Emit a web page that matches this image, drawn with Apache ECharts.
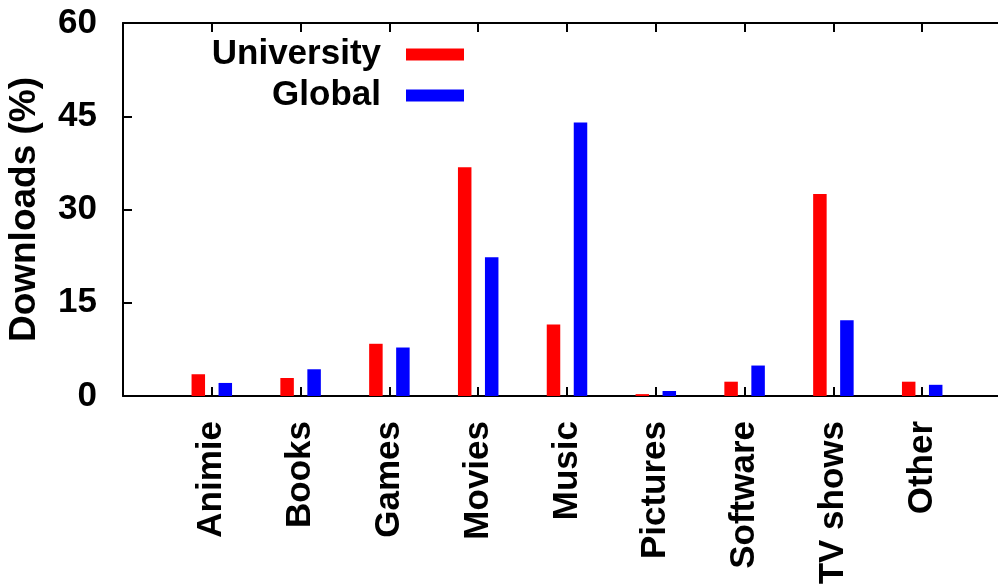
<!DOCTYPE html>
<html>
<head>
<meta charset="utf-8">
<script src="https://cdn.jsdelivr.net/npm/echarts@6/dist/echarts.min.js"></script>
<style>
html,body{margin:0;padding:0;background:#fff;}
#chart{width:998px;height:585px;}
</style>
</head>
<body>
<div id="chart"></div>
<script>
const categories = ['Animie','Books','Games','Movies','Music','Pictures','Software','TV shows','Other'];
const university = [3.5, 2.9, 8.4, 36.8, 11.5, 0.3, 2.3, 32.5, 2.3];
const global = [2.1, 4.3, 7.8, 22.3, 44.0, 0.8, 4.9, 12.2, 1.8];
const yTicks = [0, 15, 30, 45, 60];

const FONT = '"Liberation Sans", Arial, Helvetica, sans-serif';
const axisCats = [''].concat(categories, ['']);
const pad = arr => [null].concat(arr, [null]);

const chart = echarts.init(document.getElementById('chart'), null, {renderer: 'canvas'});
chart.setOption({
  animation: false,
  backgroundColor: '#fff',
  textStyle: {fontFamily: FONT, color: '#000', fontWeight: 'bold'},
  grid: {left: 123, right: -13, top: 23, bottom: 189, containLabel: false, outerBoundsMode: 'none'},
  legend: {
    orient: 'vertical',
    right: 529,
    top: 31,
    align: 'right',
    icon: 'rect',
    itemWidth: 58,
    itemHeight: 12,
    itemGap: 4,
    textStyle: {fontSize: 35, fontWeight: 'bold', fontFamily: FONT, color: '#000', lineHeight: 37, padding: [0, 20, 0, 0]},
    data: ['University', 'Global']
  },
  xAxis: [{
    type: 'category',
    data: axisCats,
    boundaryGap: false,
    position: 'bottom',
    axisLine: {lineStyle: {color: '#000', width: 2}},
    axisTick: {inside: true, length: 9, interval: 0, lineStyle: {color: '#000', width: 2}},
    axisLabel: {interval: 0, rotate: 90, margin: 25, fontSize: 35, fontWeight: 'bold', fontFamily: FONT, color: '#000'},
    splitLine: {show: false}
  }, {
    type: 'category',
    data: axisCats,
    boundaryGap: false,
    position: 'top',
    axisLine: {lineStyle: {color: '#000', width: 2}},
    axisTick: {inside: true, length: 9, interval: 0, lineStyle: {color: '#000', width: 2}},
    axisLabel: {show: false},
    splitLine: {show: false}
  }],
  yAxis: {
    type: 'value',
    min: yTicks[0],
    max: yTicks[yTicks.length - 1],
    interval: 15,
    name: 'Downloads (%)',
    nameLocation: 'middle',
    nameGap: 80,
    nameTextStyle: {fontSize: 37, fontWeight: 'bold', fontFamily: FONT, color: '#000'},
    axisLine: {show: true, lineStyle: {color: '#000', width: 2}},
    axisTick: {show: true, inside: true, length: 9, lineStyle: {color: '#000', width: 2}},
    axisLabel: {fontSize: 35, fontWeight: 'bold', margin: 26, fontFamily: FONT, color: '#000'},
    splitLine: {show: false}
  },
  series: [{
    name: 'University',
    type: 'bar',
    data: pad(university),
    barWidth: 13.5,
    barGap: '100%',
    itemStyle: {color: '#ff0000'}
  }, {
    name: 'Global',
    type: 'bar',
    data: pad(global),
    barWidth: 13.5,
    barGap: '100%',
    itemStyle: {color: '#0000ff'}
  }]
});
</script>
</body>
</html>
